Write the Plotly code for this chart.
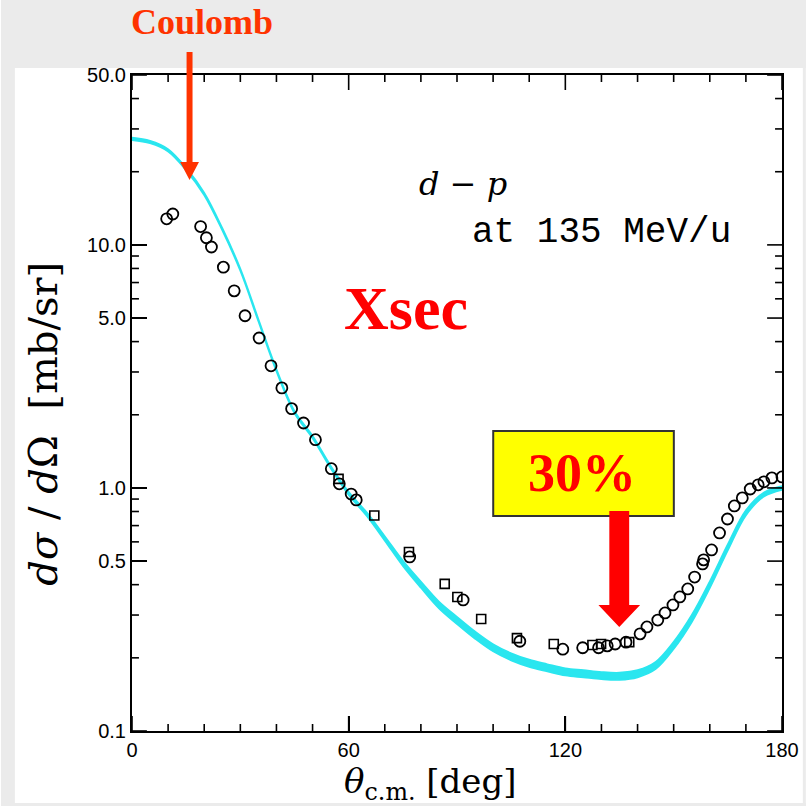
import math
import plotly.graph_objects as go

# ---------------- data ----------------
theta_theory = [0, 5, 10, 15, 20, 25, 30, 35, 40, 45, 50, 55, 60, 65, 70, 75, 80, 85, 90,
                95, 100, 105, 110, 115, 120, 125, 130, 135, 140, 145, 150, 155, 160, 165,
                170, 175, 180]
xsec_theory = [27.3, 26.5, 24.5, 20.5, 16.2, 11.6, 7.9, 4.9, 3.05, 2.05, 1.62, 1.22, 0.95,
               0.78, 0.62, 0.49, 0.40, 0.33, 0.285, 0.248, 0.22, 0.202, 0.19, 0.182, 0.175,
               0.172, 0.169, 0.168, 0.172, 0.186, 0.225, 0.29, 0.40, 0.57, 0.79, 0.94, 1.0]
band_frac = [0.012, 0.012, 0.012, 0.012, 0.012, 0.012, 0.012, 0.012, 0.012, 0.012, 0.012,
             0.013, 0.015, 0.018, 0.022, 0.026, 0.03, 0.033, 0.035, 0.035, 0.035, 0.035,
             0.035, 0.035, 0.035, 0.035, 0.035, 0.035, 0.035, 0.035, 0.035, 0.035, 0.033,
             0.03, 0.025, 0.02, 0.018]

circ_theta = [9.6, 11.3, 19.0, 20.6, 22.0, 25.3, 28.3, 31.3, 35.2, 38.5, 41.5, 44.2, 47.5,
              50.8, 55.2, 57.4, 60.7, 62.1, 76.9, 91.7, 107.4, 119.3, 124.8, 129.2, 131.6,
              133.8, 136.8, 140.7, 142.6, 145.6, 147.6, 149.8, 151.7, 153.9, 155.8, 158.0,
              158.3, 160.5, 162.7, 164.9, 166.8, 169.0, 171.2, 173.4, 175.0, 177.2, 180.0]
circ_xsec = [12.8, 13.4, 11.9, 10.7, 9.8, 8.1, 6.47, 5.11, 4.14, 3.18, 2.58, 2.12, 1.85,
             1.58, 1.20, 1.04, 0.944, 0.893, 0.52, 0.346, 0.234, 0.217, 0.22, 0.22, 0.224,
             0.228, 0.232, 0.251, 0.268, 0.286, 0.306, 0.33, 0.356, 0.384, 0.43, 0.487,
             0.506, 0.556, 0.653, 0.745, 0.843, 0.91, 0.99, 1.03, 1.06, 1.10, 1.11]

sq_theta = [57.2, 67.1, 76.7, 86.6, 90.1, 96.7, 106.6, 116.8, 127.5, 129.9, 137.7]
sq_xsec = [1.09, 0.77, 0.545, 0.403, 0.356, 0.289, 0.241, 0.228, 0.226, 0.228, 0.232]

x_tickvals = [0, 60, 120, 180]
x_ticktext = ["0", "60", "120", "180"]
x_minor = [10, 20, 30, 40, 50, 70, 80, 90, 100, 110, 130, 140, 150, 160, 170]
y_tickvals = [0.1, 0.5, 1, 5, 10, 50]
y_ticktext = ["0.1", "0.5", "1.0", "5.0", "10.0", "50.0"]
y_minor = [0.2, 0.3, 0.4, 0.6, 0.7, 0.8, 0.9, 2, 3, 4, 6, 7, 8, 9, 20, 30, 40]

X_RANGE = [0, 180]
Y_RANGE = [0.1, 50]

# ---------------- geometry helpers (pixel -> paper) ----------------
W, H = 811, 806
L, R, T, B = 132, 787, 75, 731
PW, PH = R - L, B - T


def px(x):
    return (x - L) / PW


def py(y):
    return (B - y) / PH


def y_paper(v):
    lo, hi = math.log10(Y_RANGE[0]), math.log10(Y_RANGE[1])
    return (math.log10(v) - lo) / (hi - lo)


theory_hi = [c * (1 + f) for c, f in zip(xsec_theory, band_frac)]
theory_lo = [c / (1 + f) for c, f in zip(xsec_theory, band_frac)]

CYAN = "#2ae6ef"
GRAY = "#ebebeb"

fig = go.Figure()
fig.add_trace(go.Scatter(x=theta_theory, y=theory_lo, mode="lines",
                         line=dict(color=CYAN, width=1.6, shape="spline"),
                         showlegend=False, hoverinfo="skip"))
fig.add_trace(go.Scatter(x=theta_theory, y=theory_hi, mode="lines",
                         line=dict(color=CYAN, width=1.6, shape="spline"),
                         fill="tonexty", fillcolor=CYAN,
                         showlegend=False, hoverinfo="skip"))
fig.add_trace(go.Scatter(x=sq_theta, y=sq_xsec, mode="markers",
                         marker=dict(symbol="square-open", size=9, color="black",
                                     line=dict(width=1.6, color="black")),
                         showlegend=False))
fig.add_trace(go.Scatter(x=circ_theta, y=circ_xsec, mode="markers",
                         marker=dict(symbol="circle-open", size=11, color="black",
                                     line=dict(width=1.8, color="black")),
                         showlegend=False))

shapes = []
# gray page border around the white panel
for (x0, x1, y0, y1) in [(0, 811, 0, 68), (0, 14, 0, 806), (808, 811, 0, 806),
                         (0, 811, 803, 806)]:
    shapes.append(dict(type="rect", xref="paper", yref="paper", layer="above",
                       x0=px(x0), x1=px(x1), y0=py(y1), y1=py(y0),
                       fillcolor=GRAY, line=dict(width=0)))

# inside tick marks on all four sides (major 15 px, minor 7 px)
TICK_W = 1.6
for vals, ln in [(x_tickvals, 15), (x_minor, 7)]:
    for v in vals:
        for (ya, yb) in [(0, ln / PH), (1 - ln / PH, 1)]:
            shapes.append(dict(type="line", xref="x", yref="paper", layer="above",
                               x0=v, x1=v, y0=ya, y1=yb,
                               line=dict(color="black", width=TICK_W)))
for vals, ln in [(y_tickvals, 15), (y_minor, 7)]:
    for v in vals:
        yp = y_paper(v)
        for (xa, xb) in [(0, ln / PW), (1 - ln / PW, 1)]:
            shapes.append(dict(type="line", xref="paper", yref="paper", layer="above",
                               x0=xa, x1=xb, y0=yp, y1=yp,
                               line=dict(color="black", width=TICK_W)))

# yellow box
shapes.append(dict(type="rect", xref="paper", yref="paper", layer="above",
                   x0=px(496), x1=px(678), y0=py(516), y1=py(431),
                   fillcolor="#ffff00", line=dict(color="#333333", width=2)))


def arrow_path(xc, y_top, y_head, y_tip, shaft_w, head_w):
    pts = [(xc - shaft_w / 2, y_top), (xc + shaft_w / 2, y_top),
           (xc + shaft_w / 2, y_head), (xc + head_w / 2, y_head),
           (xc, y_tip), (xc - head_w / 2, y_head), (xc - shaft_w / 2, y_head)]
    d = "M " + " L ".join(f"{px(a):.5f},{py(b):.5f}" for a, b in pts) + " Z"
    return d


shapes.append(dict(type="path", xref="paper", yref="paper", layer="above",
                   path=arrow_path(190, 52, 162, 180, 6, 19),
                   fillcolor="#ff3300", line=dict(width=0)))
shapes.append(dict(type="path", xref="paper", yref="paper", layer="above",
                   path=arrow_path(623, 511, 605, 627, 20, 42),
                   fillcolor="#ff0000", line=dict(width=0)))

NB = "\u00a0"
annotations = [
    dict(text="<b>Coulomb</b>", x=px(203), y=py(22),
         font=dict(family="Liberation Serif", size=36, color="#ff3300")),
    dict(text="<b>Xsec</b>", x=px(408), y=py(308),
         font=dict(family="Liberation Serif", size=62, color="#ff0000")),
    dict(text="<b>30%</b>", x=px(585), y=py(473),
         font=dict(family="Liberation Serif", size=54, color="#ff0000")),
    dict(text="<i>d</i>" + NB + "−" + NB + "<i>p</i>", x=px(466), y=py(184),
         font=dict(family="DejaVu Serif", size=32, color="black")),
    dict(text="at 135 MeV/u", x=px(605), y=py(232),
         font=dict(family="Liberation Mono", size=36, color="black")),
    dict(text="<i>θ</i><sub>c.m.</sub>" + NB + "[deg]", x=px(433), y=py(783),
         font=dict(family="DejaVu Serif", size=34, color="black")),
    dict(text="<i>dσ</i>" + NB + "/" + NB + "<i>d</i>Ω" + NB + NB + "[mb/sr]",
         x=px(42), y=py(424), textangle=-90,
         font=dict(family="DejaVu Serif", size=40, color="black")),
]
for a in annotations:
    a.update(xref="paper", yref="paper", xanchor="center", yanchor="middle",
             showarrow=False)

axis_common = dict(showline=True, linecolor="black", linewidth=2, mirror=True,
                   ticks="inside", tickcolor="black", tickwidth=TICK_W, ticklen=15,
                   showgrid=False, zeroline=False,
                   tickfont=dict(family="Liberation Sans", size=20, color="black"))

fig.update_layout(
    width=W, height=H, autosize=False,
    margin=dict(l=L, r=W - R, t=T, b=H - B),
    paper_bgcolor="white", plot_bgcolor="white",
    shapes=shapes, annotations=annotations,
    xaxis=dict(range=X_RANGE, tickmode="array", tickvals=x_tickvals,
               ticktext=x_ticktext, **axis_common),
    yaxis=dict(type="log", range=[math.log10(Y_RANGE[0]), math.log10(Y_RANGE[1])],
               tickmode="array", tickvals=y_tickvals, ticktext=y_ticktext,
               **axis_common),
)

fig.write_html("out.html")
